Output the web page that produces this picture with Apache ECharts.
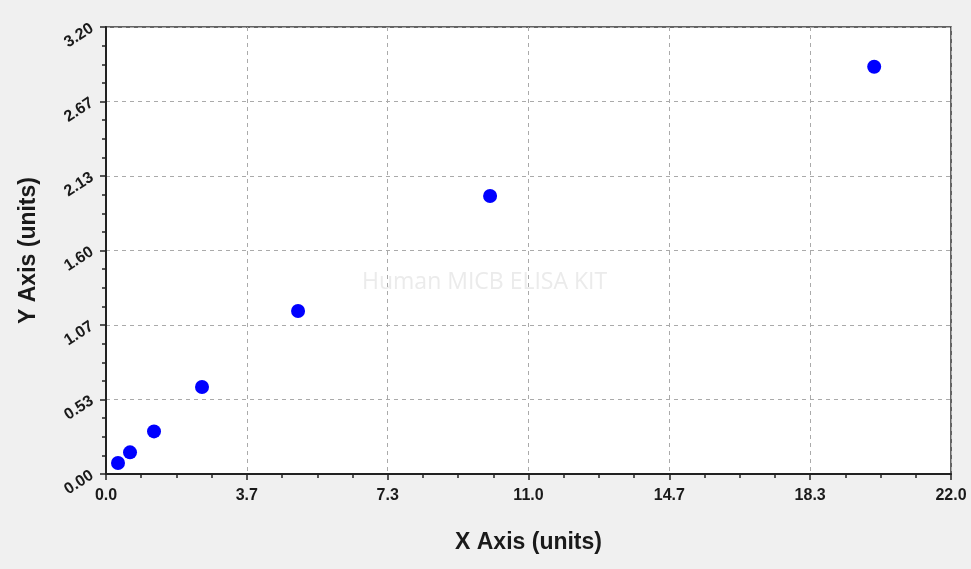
<!DOCTYPE html>
<html>
<head>
<meta charset="utf-8">
<script src="https://cdn.jsdelivr.net/npm/echarts@6/dist/echarts.min.js"></script>
<style>
  html, body { margin: 0; padding: 0; background: #f0f0f0; }
  #main { width: 971px; height: 569px; }
</style>
</head>
<body>
<div id="main"></div>
<script>
var xValues = [0.3125, 0.625, 1.25, 2.5, 5, 10, 20];
var yValues = [0.079, 0.155, 0.305, 0.623, 1.167, 1.99, 2.915];
var xTickLabels = ['0.0', '3.7', '7.3', '11.0', '14.7', '18.3', '22.0'];
var yTickLabels = ['0.00', '0.53', '1.07', '1.60', '2.13', '2.67', '3.20'];

var xMax = 22, yMax = 3.2;
var points = xValues.map(function (x, i) { return [x, yValues[i]]; });

var myChart = echarts.init(document.getElementById('main'));

var labelFont = {
    color: '#1a1a1a',
    fontFamily: 'Arial, Liberation Sans, sans-serif',
    fontWeight: 'bold',
    fontSize: 16
};
var titleFont = {
    color: '#1a1a1a',
    fontFamily: 'Arial, Liberation Sans, sans-serif',
    fontWeight: 'bold',
    fontSize: 23
};

var option = {
    backgroundColor: '#f0f0f0',
    animation: false,
    graphic: [{
        type: 'text',
        left: 362,
        top: 271,
        style: {
            text: 'Human MICB ELISA KIT',
            fill: '#ebebeb',
            font: '23px "Open Sans", sans-serif'
        }
    }],
    grid: {
        left: 106,
        right: 20,
        top: 27,
        bottom: 95,
        show: true,
        backgroundColor: '#ffffff',
        borderColor: '#333333',
        borderWidth: 1.5
    },
    xAxis: {
        type: 'value',
        min: 0,
        max: xMax,
        interval: xMax / 6,
        name: 'X Axis (units)',
        nameLocation: 'middle',
        nameGap: 57,
        nameTextStyle: titleFont,
        axisLine: { lineStyle: { color: '#222', width: 2 } },
        axisTick: { show: true, length: 6, inside: false, lineStyle: { color: '#222', width: 1.5 } },
        minorTick: { show: true, splitNumber: 4, length: 4, lineStyle: { color: '#222', width: 1.5 } },
        axisLabel: Object.assign({
            margin: 14,
            formatter: function (v) {
                return xTickLabels[Math.round(v / (xMax / 6))];
            }
        }, labelFont),
        splitLine: { show: true, lineStyle: { color: '#aaaaaa', type: [4, 4], width: 1 } }
    },
    yAxis: {
        type: 'value',
        min: 0,
        max: yMax,
        interval: yMax / 6,
        name: 'Y Axis (units)',
        nameLocation: 'middle',
        nameGap: 66,
        nameTextStyle: titleFont,
        axisLine: { show: true, lineStyle: { color: '#222', width: 2 } },
        axisTick: { show: true, length: 6, lineStyle: { color: '#222', width: 1.5 } },
        minorTick: { show: true, splitNumber: 4, length: 4, lineStyle: { color: '#222', width: 1.5 } },
        axisLabel: Object.assign({
            margin: 14,
            rotate: 33,
            formatter: function (v) {
                return yTickLabels[Math.round(v / (yMax / 6))];
            }
        }, labelFont),
        splitLine: { show: true, lineStyle: { color: '#aaaaaa', type: [4, 4], width: 1 } }
    },
    series: [{
        name: 'Standard',
        type: 'scatter',
        data: points,
        symbol: 'circle',
        symbolSize: 14,
        itemStyle: { color: '#0000ff', opacity: 1 }
    }]
};

myChart.setOption(option);
</script>
</body>
</html>
